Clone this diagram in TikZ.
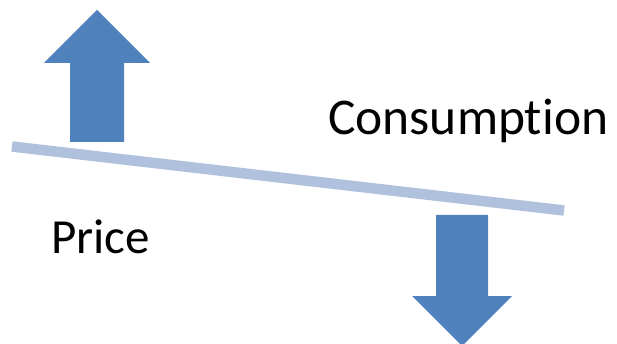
\documentclass[tikz,border=0pt]{standalone}
\usepackage{fontspec}
\setmainfont[Ligatures=NoCommon]{Carlito}
\definecolor{arrowblue}{RGB}{79,129,189}
\definecolor{barblue}{RGB}{176,193,222}
\begin{document}
\begin{tikzpicture}[x=1pt,y=-1pt,inner sep=0pt,
  bigarrow/.style={fill=arrowblue,draw=none},
  label/.style={font=\fontsize{49}{58}\selectfont,anchor=base west}]

\useasboundingbox (0,0) rectangle (617,344);

\fill[bigarrow] (70,142) -- (70,63) -- (44,63) -- (97,10) -- (150,63) -- (124,63) -- (124,142) -- cycle;

\draw[barblue,line width=10.5pt] (12,146.5) -- (564,210.5);

\fill[bigarrow] (436,215) -- (436,296) -- (412,296) -- (462,346) -- (512,296) -- (488,296) -- (488,215) -- cycle;

\node[label,font=\fontsize{51.5}{60}\selectfont] (cons) at (328,135) {Consumption};
\node[label] (price) at (51,253) {Price};

\end{tikzpicture}
\end{document}
